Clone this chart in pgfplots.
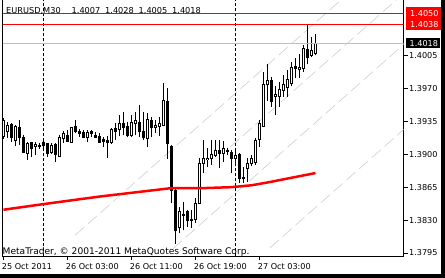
\documentclass[border=0pt]{standalone}
\usepackage{fontspec}
\setmainfont{DejaVu Sans}
\usepackage{pgfplots}
\usepackage{pgfplotstable}
\pgfplotsset{compat=1.18}
\newcommand\cf{\fontsize{8.1bp}{9bp}\selectfont}
\newcommand\hf{\fontsize{8.2bp}{9bp}\selectfont}
\newcommand\mf{\fontsize{9.1bp}{10bp}\selectfont}

\pgfplotstableread{
i O H L C
0 1.3919 1.3939 1.3916 1.3936
1 1.3924 1.3934 1.3917 1.3931
2 1.3932 1.3933 1.3913 1.3918
3 1.3915 1.3931 1.3909 1.3929
4 1.3928 1.3936 1.3910 1.3918
5 1.3918 1.3920 1.3901 1.3902
6 1.3901 1.3913 1.3894 1.3911
7 1.3912 1.3913 1.3897 1.3906
8 1.3908 1.3913 1.3899 1.3910
9 1.3908 1.3912 1.3906 1.3909
10 1.3913 1.3915 1.3907 1.3909
11 1.3911 1.3912 1.3897 1.3901
12 1.3902 1.3912 1.3900 1.3909
13 1.3910 1.3912 1.3892 1.3900
14 1.3898 1.3920 1.3897 1.3918
15 1.3917 1.3925 1.3912 1.3922
16 1.3920 1.3926 1.3913 1.3914
17 1.3913 1.3929 1.3912 1.3928
18 1.3929 1.3936 1.3923 1.3924
19 1.3924 1.3927 1.3918 1.3922
20 1.3923 1.3926 1.3917 1.3918
21 1.3918 1.3926 1.3913 1.3923
22 1.3924 1.3926 1.3918 1.3922
23 1.3920 1.3924 1.3917 1.3918
24 1.3919 1.3923 1.3912 1.3913
25 1.3916 1.3918 1.3908 1.3914
26 1.3915 1.3919 1.3896 1.3912
27 1.3912 1.3928 1.3911 1.3926
28 1.3927 1.3933 1.3915 1.3924
29 1.3926 1.3942 1.3919 1.3933
30 1.3933 1.3945 1.3920 1.3928
31 1.3929 1.3934 1.3918 1.3920
32 1.3920 1.3942 1.3918 1.3934
33 1.3933 1.3945 1.3920 1.3936
34 1.3934 1.3952 1.3918 1.3924
35 1.3924 1.3945 1.3915 1.3918
36 1.3917 1.3944 1.3908 1.3937
37 1.3936 1.3940 1.3918 1.3928
38 1.3928 1.3936 1.3923 1.3931
39 1.3930 1.3940 1.3919 1.3933
40 1.3931 1.3976 1.3930 1.3957
41 1.3956 1.3970 1.3895 1.3911
42 1.3908 1.3910 1.3848 1.3861
43 1.3861 1.3863 1.3805 1.3819
44 1.3822 1.3844 1.3816 1.3839
45 1.3836 1.3849 1.3819 1.3835
46 1.3839 1.3841 1.3823 1.3830
47 1.3831 1.3841 1.3822 1.3830
48 1.3831 1.3853 1.3827 1.3848
49 1.3848 1.3896 1.3847 1.3890
50 1.3890 1.3915 1.3880 1.3895
51 1.3894 1.3907 1.3886 1.3896
52 1.3896 1.3915 1.3889 1.3900
53 1.3899 1.3915 1.3897 1.3904
54 1.3904 1.3915 1.3885 1.3901
55 1.3901 1.3914 1.3892 1.3906
56 1.3903 1.3907 1.3899 1.3904
57 1.3902 1.3904 1.3880 1.3896
58 1.3896 1.3904 1.3887 1.3899
59 1.3900 1.3901 1.3869 1.3874
60 1.3874 1.3886 1.3869 1.3875
61 1.3885 1.3896 1.3870 1.3890
62 1.3890 1.3899 1.3887 1.3896
63 1.3891 1.3917 1.3889 1.3915
64 1.3916 1.3936 1.3908 1.3933
65 1.3930 1.3987 1.3929 1.3974
66 1.3974 1.3996 1.3957 1.3978
67 1.3978 1.3982 1.3950 1.3956
68 1.3961 1.3973 1.3942 1.3963
69 1.3961 1.3977 1.3950 1.3969
70 1.3968 1.3984 1.3961 1.3974
71 1.3971 1.3990 1.3961 1.3979
72 1.3975 1.3998 1.3973 1.3992
73 1.3993 1.4002 1.3981 1.3991
74 1.3990 1.4007 1.3981 1.3992
75 1.3991 1.4016 1.3987 1.4012
76 1.4011 1.4038 1.3996 1.4003
77 1.4005 1.4025 1.4003 1.4010
78 1.4007 1.4028 1.4005 1.4018
}\ohlc

\pgfplotstableread{
i ma
0 1.3841
10 1.3847
24 1.3855
42 1.3864
50 1.3864
57 1.3865
62 1.3867
66 1.3870
72 1.3875
78 1.3880
}\matable

\pgfplotstableread{
x0 y0 x1 y1
17.875 1.381382 114.125 1.417607
56.625 1.390755 114.125 1.412397
42.375 1.379968 114.125 1.406975
66.625 1.380058 114.125 1.397937
}\chan

\begin{document}
\begin{tikzpicture}
\useasboundingbox (0,0) rectangle (445bp,278bp);
\fill[white] (0,0) rectangle (445bp,278bp);
\begin{axis}[
  at={(2.5bp,21.5bp)}, anchor=south west,
  scale only axis, width=401bp, height=256.5bp,
  xmin=-0.25, xmax=100,
  ymin=1.379128, ymax=1.406401,
  axis x line*=bottom, axis y line*=right,
  axis line style={black, line width=1bp, -},
  clip mode=individual,
  xtick={0,16,32,48,64},
  xticklabels={25 Oct 2011, 26 Oct 03:00, 26 Oct 11:00, 26 Oct 19:00, 27 Oct 03:00},
  ytick={1.3795,1.3830,1.3865,1.3900,1.3935,1.3970,1.4005},
  yticklabels={1.3795,1.3830,1.3865,1.3900,1.3935,1.3970,1.4005},
  tick align=outside, major tick length=4bp,
  tick style={black, line width=1bp},
  ticklabel style={font=\cf, text=black},
  xticklabel style={anchor=base west, inner sep=0pt, xshift=-1.8bp, yshift=-9bp},
  yticklabel style={anchor=west, inner sep=0pt, xshift=1.5bp},
]
% diagonal channel lines
\foreach \r in {0,1,2,3}{
  \pgfplotstablegetelem{\r}{x0}\of\chan\edef\ax{\pgfplotsretval}
  \pgfplotstablegetelem{\r}{y0}\of\chan\edef\ay{\pgfplotsretval}
  \pgfplotstablegetelem{\r}{x1}\of\chan\edef\bx{\pgfplotsretval}
  \pgfplotstablegetelem{\r}{y1}\of\chan\edef\by{\pgfplotsretval}
  \edef\temp{\noexpand\addplot[gray!38, line width=0.6bp, dash pattern=on 12bp off 5bp, forget plot] coordinates {(\ax,\ay) (\bx,\by)};}
  \temp
}
% day separators
\addplot[black, line width=1bp, dash pattern=on 3bp off 2bp] coordinates {(10,1.379128) (10,1.406401)};
\addplot[black, line width=1bp, dash pattern=on 3bp off 2bp] coordinates {(58,1.379128) (58,1.406401)};
% wicks
\addplot[draw=none, mark=none, error bars/.cd, y dir=plus, y explicit, error mark=none,
  error bar style={draw=black, line width=1bp, solid}]
  table[x=i, y=L, y error expr=\thisrow{H}-\thisrow{L}] {\ohlc};
% bodies: outline / solid
\addplot[draw=none, mark=none, error bars/.cd, y dir=plus, y explicit, error mark=none,
  error bar style={draw=black, line width=3bp, solid}]
  table[x=i, y expr={min(\thisrow{O},\thisrow{C})-0.0000532}, y error expr={abs(\thisrow{C}-\thisrow{O})+0.0001063}] {\ohlc};
% bodies: white inside of rising candles
\addplot[draw=none, mark=none, restrict expr to domain={\thisrow{C}-\thisrow{O}}{0.00016:1},
  error bars/.cd, y dir=plus, y explicit, error mark=none,
  error bar style={draw=white, line width=1bp, solid}]
  table[x=i, y expr={\thisrow{O}+0.0000532}, y error expr={\thisrow{C}-\thisrow{O}-0.0001063}] {\ohlc};
% moving average
\addplot[red, line width=2.5bp] table[x=i, y=ma] {\matable};
% horizontal lines
\addplot[red, line width=1bp] coordinates {(-0.25,1.4050) (100,1.4050)};
\addplot[red, line width=1bp] coordinates {(-0.25,1.4038) (100,1.4038)};
\addplot[gray!50, line width=1bp] coordinates {(-0.25,1.4018) (100,1.4018)};
% left border
\draw[black, line width=1bp] (rel axis cs:0,0) -- (rel axis cs:0,1);
% price labels
\node[anchor=west, fill=red, text=white, inner sep=0pt, minimum height=12bp, text width=35bp, align=left, font=\cf] at (axis cs:100,1.4050) [xshift=2.5bp] {\hspace*{4bp}1.4050};
\node[anchor=west, fill=red, text=white, inner sep=0pt, minimum height=11bp, text width=35bp, align=left, font=\cf] at (axis cs:100,1.4038) [xshift=2.5bp] {\hspace*{4bp}1.4038};
\node[anchor=west, fill=black, text=white, inner sep=0pt, minimum height=10bp, text width=33.5bp, align=left, font=\cf] at (axis cs:100,1.4018) [xshift=2.5bp] {\hspace*{3.5bp}1.4018};
\end{axis}
\fill[black] (0,0) rectangle (445bp,4bp);
\fill[black] (441bp,0) rectangle (445bp,278bp);
\node[anchor=base west, inner sep=0pt, font=\hf] at (6bp,264.7bp) {EURUSD,M30};
\node[anchor=base west, inner sep=0pt, font=\hf] at (71.5bp,264.7bp) {1.4007};
\node[anchor=base west, inner sep=0pt, font=\hf] at (105bp,264.7bp) {1.4028};
\node[anchor=base west, inner sep=0pt, font=\hf] at (138.5bp,264.7bp) {1.4005};
\node[anchor=base west, inner sep=0pt, font=\hf] at (172bp,264.7bp) {1.4018};
\node[anchor=base west, inner sep=0pt, font=\mf] at (2.5bp,23.5bp) {MetaTrader, © 2001-2011 MetaQuotes Software Corp.};
\end{tikzpicture}
\end{document}
